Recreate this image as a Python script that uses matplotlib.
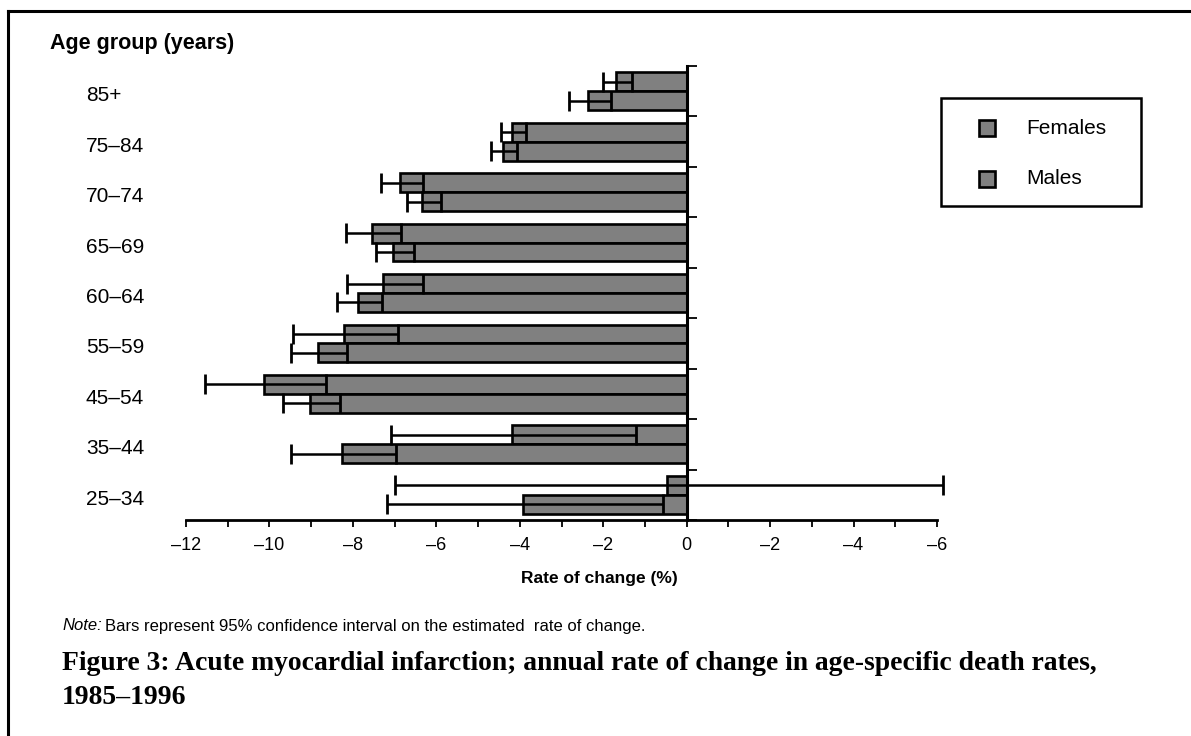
import numpy as np
import matplotlib
matplotlib.use('Agg')
import matplotlib.pyplot as plt
from matplotlib.lines import Line2D
from matplotlib.patches import Rectangle

# age groups bottom -> top
groups = ['25–34', '35–44', '45–54', '55–59', '60–64', '65–69', '70–74', '75–84', '85+']

# annual rate of change (%) with 95% CI
females = [-0.46, -4.18, -10.13, -8.22, -7.27, -7.54, -6.86, -4.18, -1.69]
fem_lo = [-6.99, -7.09, -11.54, -9.44, -8.15, -8.17, -7.33, -4.45, -2.01]
fem_hi = [6.14, -1.21, -8.64, -6.93, -6.33, -6.84, -6.31, -3.84, -1.30]

males = [-3.92, -8.26, -9.02, -8.84, -7.88, -7.03, -6.34, -4.41, -2.37]
male_lo = [-7.19, -9.48, -9.67, -9.49, -8.39, -7.44, -6.71, -4.69, -2.82]
male_hi = [-0.57, -6.97, -8.32, -8.14, -7.31, -6.53, -5.90, -4.07, -1.81]

xticks = [-12, -10, -8, -6, -4, -2, 0, 2, 4, 6]
xtick_labels = ['–12', '–10', '–8', '–6', '–4', '–2', '0', '–2', '–4', '–6']
series = ['Females', 'Males']

sans = ['Liberation Sans', 'DejaVu Sans']
serif = ['Liberation Serif', 'DejaVu Serif']
grey = '#808080'

fig = plt.figure(figsize=(11.91, 7.36), dpi=100)
W, H = 1191, 736
ax = fig.add_axes([186 / W, 1 - 520 / H, (937 - 186) / W, (520 - 66) / H])

y = np.arange(len(groups))
h = 0.375
females = np.array(females); males = np.array(males)
ferr = [females - np.array(fem_lo), np.array(fem_hi) - females]
merr = [males - np.array(male_lo), np.array(male_hi) - males]

ax.barh(y + h / 2, females, height=h, color=grey, edgecolor='black', linewidth=1.9, zorder=2)
ax.barh(y - h / 2, males, height=h, color=grey, edgecolor='black', linewidth=1.9, zorder=2)
ax.errorbar(females, y + h / 2, xerr=ferr, fmt='none', ecolor='black', elinewidth=1.8,
            capsize=7, capthick=2, zorder=3, clip_on=False)
ax.errorbar(males, y - h / 2, xerr=merr, fmt='none', ecolor='black', elinewidth=1.8,
            capsize=7, capthick=2, zorder=3, clip_on=False)

ax.set_xlim(-12, 6)
ax.set_ylim(-0.5, len(groups) - 0.5)

for s in ['top', 'right']:
    ax.spines[s].set_visible(False)
ax.spines['left'].set_position(('data', 0))
ax.spines['left'].set_linewidth(2.2)
ax.spines['bottom'].set_linewidth(2.0)
ax.spines['left'].set_zorder(4)

ax.set_yticks(np.arange(-0.5, len(groups), 1.0))
ax.set_yticklabels([])
ax.tick_params(axis='y', direction='in', length=7, width=1.3)

ax.set_xticks(xticks)
ax.set_xticklabels(xtick_labels, family=sans, fontsize=13)
ax.set_xticks(np.arange(-11, 6, 2), minor=True)
ax.tick_params(axis='x', which='both', direction='out', length=5, width=1.3, pad=7)

fig.text(599 / W, 1 - 578 / H, 'Rate of change (%)', family=sans, fontsize=12.5,
         fontweight='bold', ha='center', va='center')

# age group labels on the left
for yi, g in zip(y, groups):
    ax.text(-14.4, yi - 0.09, g, family=sans, fontsize=15, ha='left', va='center', clip_on=False)

fig.text(50 / W, 1 - 43 / H, 'Age group (years)', family=sans, fontsize=15.5,
         fontweight='bold', ha='left', va='center')

# legend box
fig.add_artist(Rectangle((941 / W, 1 - 206 / H), 200 / W, 108 / H, transform=fig.transFigure,
                         facecolor='white', edgecolor='black', linewidth=1.8))
for lab, yc in zip(series, [128, 179]):
    fig.add_artist(Rectangle((979 / W, 1 - (yc + 8) / H), 16 / W, 16 / H, transform=fig.transFigure,
                             facecolor=grey, edgecolor='black', linewidth=1.9))
    fig.text(1026 / W, 1 - yc / H, lab, family=sans, fontsize=15, ha='left', va='center')

# note and caption
note = fig.text(62 / W, 1 - 626 / H, 'Note:', family=sans, fontsize=12, style='italic',
                ha='left', va='center')
fig.canvas.draw()
bb = note.get_window_extent()
fig.text((bb.x1 + 3) / W, 1 - 626 / H,
         'Bars represent 95% confidence interval on the estimated  rate of change.',
         family=sans, fontsize=12, ha='left', va='center')
fig.text(62 / W, 1 - 664 / H,
         'Figure 3: Acute myocardial infarction; annual rate of change in age-specific death rates,',
         family=serif, fontsize=19.9, fontweight='bold', ha='left', va='center')
fig.text(62 / W, 1 - 698 / H, '1985–1996', family=serif,
         fontsize=19.9, fontweight='bold', ha='left', va='center')

# frame lines (top and left)
fig.add_artist(Line2D([8 / W, 1], [1 - 11 / H, 1 - 11 / H], color='black', linewidth=2.2,
                      transform=fig.transFigure))
fig.add_artist(Line2D([8 / W, 8 / W], [0, 1 - 11 / H], color='black', linewidth=2.2,
                      transform=fig.transFigure))

fig.savefig('out.png', dpi=100)
